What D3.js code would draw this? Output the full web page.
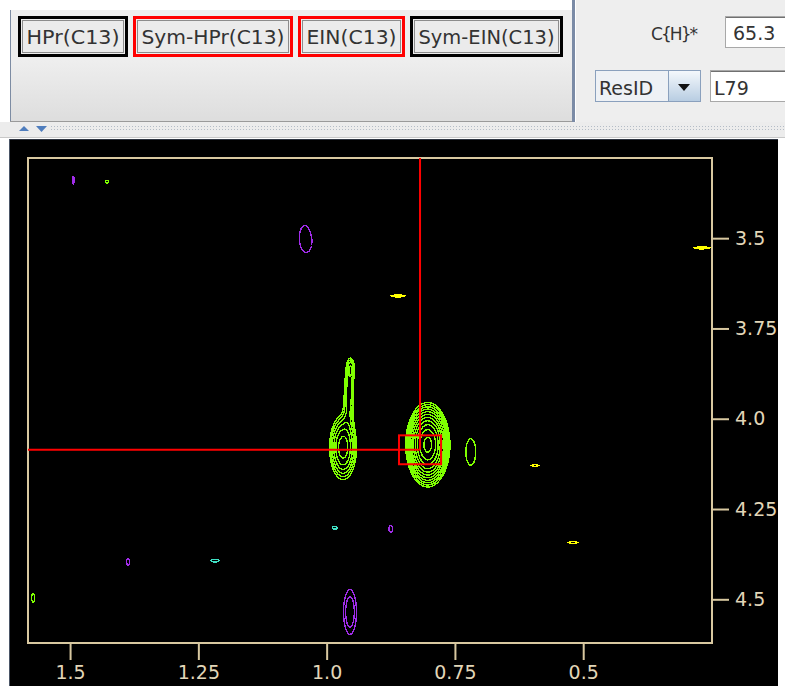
<!DOCTYPE html>
<html>
<head>
<meta charset="utf-8">
<script src="https://cdn.jsdelivr.net/npm/d3@7"></script>
<style>
  body { margin: 0; background: #fff; overflow: hidden; }
  svg { display: block; font-family: "DejaVu Sans", sans-serif; }
</style>
</head>
<body>
<svg id="view" width="785" height="686"></svg>
<script>
// spectrum window (ppm), x axis runs high -> low
const xDomain = [1.582, 0.249];
const yDomain = [3.278, 4.621];
const xTicks = [1.5, 1.25, 1.0, 0.75, 0.5];
const xTickLabels = ["1.5", "1.25", "1.0", "0.75", "0.5"];
const yTicks = [3.5, 3.75, 4.0, 4.25, 4.5];
const yTickLabels = ["3.5", "3.75", "4.0", "4.25", "4.5"];

// peaks: [x ppm, y ppm, height, x linewidth, y linewidth]
const greenPeaks = [
  [0.803, 4.072, 10.0, 0.0200, 0.0545],
  [0.968, 4.080, 3.5, 0.0166, 0.0560],
  [0.9565, 3.926, 1.8, 0.0078, 0.0554],
  [0.9526, 3.859, 1.3, 0.0058, 0.0220],
  [0.719, 4.092, 1.2, 0.0156, 0.0610],
  [1.428, 3.344, 1.1, 0.0067, 0.0095],
  [1.572, 4.496, 1.1, 0.0067, 0.0300]
];
const purplePeaks = [
  [1.040, 3.512, 1.1, 0.0245, 0.0630],
  [1.044, 3.477, 0.2, 0.0080, 0.0220],
  [1.494, 3.339, 1.1, 0.0045, 0.0250],
  [0.9545, 4.535, 1.5, 0.0140, 0.0690],
  [0.875, 4.305, 1.1, 0.0090, 0.0220],
  [1.387, 4.396, 1.1, 0.0067, 0.0220]
];
const cyanPeaks = [
  [0.984, 4.302, 1.1, 0.0110, 0.0095],
  [1.2175, 4.393, 1.1, 0.0175, 0.0095]
];
const yellowPeaks = [
  [0.861, 3.660, 1.1, 0.0350, 0.0064],
  [0.269, 3.527, 1.1, 0.0390, 0.0064],
  [0.594, 4.130, 1.1, 0.0156, 0.0064],
  [0.520, 4.343, 1.1, 0.0210, 0.0064]
];
const contourBase = 1.0, contourFactor = 1.25, contourCount = 12;

const cursorPos = [0.818, 4.086];
const cursorHalf = [0.041, 0.040];

const buttonLabels = ["HPr(C13)", "Sym-HPr(C13)", "EIN(C13)", "Sym-EIN(C13)"];
const buttonActive = [false, true, true, false];
const shiftLabel = "C{H}*";
const shiftValue = "65.3";
const comboLabel = "ResID";
const residueValue = "L79";

const svg = d3.select("#view");
const defs = svg.append("defs");

// ---------- top control panel ----------
const grad = defs.append("linearGradient").attr("id", "panelGrad").attr("x1", 0).attr("y1", 0).attr("x2", 0).attr("y2", 1);
grad.append("stop").attr("offset", "0%").attr("stop-color", "#eeeeee");
grad.append("stop").attr("offset", "45%").attr("stop-color", "#eeeeee");
grad.append("stop").attr("offset", "100%").attr("stop-color", "#dddddd");

const arrowGrad = defs.append("linearGradient").attr("id", "arrowGrad").attr("x1", 0).attr("y1", 0).attr("x2", 0).attr("y2", 1);
arrowGrad.append("stop").attr("offset", "0%").attr("stop-color", "#f4f8fc");
arrowGrad.append("stop").attr("offset", "100%").attr("stop-color", "#b8cde2");

svg.append("rect").attr("x", 10).attr("y", 10).attr("width", 562).attr("height", 112).attr("fill", "url(#panelGrad)");
svg.append("line").attr("x1", 10.5).attr("x2", 10.5).attr("y1", 10).attr("y2", 122).attr("stroke", "#7d8ca3");
svg.append("line").attr("x1", 10).attr("x2", 572).attr("y1", 121.5).attr("y2", 121.5).attr("stroke", "#9a9a9a");
svg.append("rect").attr("x", 576).attr("y", 0).attr("width", 209).attr("height", 122).attr("fill", "#eeeeee");
svg.append("rect").attr("x", 572).attr("y", 0).attr("width", 3).attr("height", 122).attr("fill", "#7b8ba6");

const btnX = [18, 133, 298, 410], btnW = [110, 160, 107, 153];
const buttons = svg.append("g").selectAll("g").data(buttonLabels).join("g");
buttons.append("rect")
  .attr("x", (d, i) => btnX[i] + 1.5).attr("y", 17.5)
  .attr("width", (d, i) => btnW[i] - 3).attr("height", 38)
  .attr("fill", "none").attr("stroke", (d, i) => buttonActive[i] ? "#ff0000" : "#000000").attr("stroke-width", 3);
buttons.append("rect")
  .attr("x", (d, i) => btnX[i] + 4.5).attr("y", 20.5)
  .attr("width", (d, i) => btnW[i] - 9).attr("height", 32)
  .attr("fill", "#ebebeb").attr("stroke", "#8c8c8c");
buttons.append("text")
  .attr("x", (d, i) => btnX[i] + btnW[i] / 2).attr("y", 44)
  .attr("text-anchor", "middle").attr("font-size", 19).attr("fill", "#333")
  .attr("textLength", (d, i) => btnW[i] - 17).attr("lengthAdjust", "spacingAndGlyphs")
  .text(d => d);

svg.append("text").attr("x", 651).attr("y", 40).attr("font-size", 17).attr("fill", "#333")
  .attr("textLength", 47).text(shiftLabel);
svg.append("rect").attr("x", 725.5).attr("y", 16.5).attr("width", 70).attr("height", 31).attr("fill", "#fff").attr("stroke", "#a8a8a8");
svg.append("line").attr("x1", 726).attr("x2", 790).attr("y1", 17.5).attr("y2", 17.5).attr("stroke", "#707070");
svg.append("text").attr("x", 733).attr("y", 40).attr("font-size", 19).attr("fill", "#333").text(shiftValue);

svg.append("rect").attr("x", 595.5).attr("y", 70.5).attr("width", 105).attr("height", 31).attr("fill", "#eef1f5").attr("stroke", "#8aa0bd");
svg.append("rect").attr("x", 668.5).attr("y", 71).attr("width", 31.5).attr("height", 30).attr("fill", "url(#arrowGrad)");
svg.append("line").attr("x1", 668.5).attr("x2", 668.5).attr("y1", 71).attr("y2", 101).attr("stroke", "#8aa0bd");
svg.append("path").attr("d", "M678,84L690,84L684,91Z").attr("fill", "#111");
svg.append("text").attr("x", 599).attr("y", 95).attr("font-size", 19).attr("fill", "#333").text(comboLabel);
svg.append("rect").attr("x", 710.5).attr("y", 70.5).attr("width", 80).attr("height", 31).attr("fill", "#fff").attr("stroke", "#a8a8a8");
svg.append("line").attr("x1", 711).attr("x2", 790).attr("y1", 71.5).attr("y2", 71.5).attr("stroke", "#707070");
svg.append("text").attr("x", 714).attr("y", 95).attr("font-size", 19).attr("fill", "#333").text(residueValue);

// splitter strip
const dots = defs.append("pattern").attr("id", "dots").attr("width", 3).attr("height", 3).attr("patternUnits", "userSpaceOnUse");
dots.append("rect").attr("width", 1).attr("height", 1).attr("fill", "#b4bcc6");
svg.append("rect").attr("x", 0).attr("y", 122).attr("width", 785).attr("height", 15).attr("fill", "#ececec");
svg.append("rect").attr("x", 50).attr("y", 126).attr("width", 735).attr("height", 6).attr("fill", "url(#dots)");
svg.append("path").attr("d", "M19,131L24,126L29,131Z").attr("fill", "#4f7dbd");
svg.append("path").attr("d", "M36,126L47,126L41.5,132Z").attr("fill", "#4f7dbd");
svg.append("line").attr("x1", 0).attr("x2", 785).attr("y1", 137.5).attr("y2", 137.5).attr("stroke", "#c8c8c8");

// ---------- spectrum panel ----------
defs.append("clipPath").attr("id", "panelClip").append("rect").attr("x", 9).attr("y", 139).attr("width", 769).attr("height", 547);
const panel = svg.append("g").attr("clip-path", "url(#panelClip)");
panel.append("rect").attr("x", 9).attr("y", 139).attr("width", 769).attr("height", 547).attr("fill", "#000");
panel.append("line").attr("x1", 9).attr("x2", 778).attr("y1", 139.5).attr("y2", 139.5).attr("stroke", "#2e3440");
panel.append("line").attr("x1", 9.5).attr("x2", 9.5).attr("y1", 139).attr("y2", 686).attr("stroke", "#4a5566");

const plotL = 28, plotT = 158, plotR = 712, plotB = 643;
const x = d3.scaleLinear().domain(xDomain).range([plotL, plotR]);
const y = d3.scaleLinear().domain(yDomain).range([plotT, plotB]);

defs.append("clipPath").attr("id", "plotClip").append("rect")
  .attr("x", plotL).attr("y", plotT).attr("width", plotR - plotL).attr("height", plotB - plotT);

const nx = plotR - plotL, ny = plotB - plotT;
function peakGrid(peaks) {
  const values = new Float64Array(nx * ny);
  peaks.forEach(p => {
    const cx = x(p[0]) - plotL, cy = y(p[1]) - plotT;
    const sx = Math.abs(x(p[0] + p[3]) - x(p[0])), sy = Math.abs(y(p[1] + p[4]) - y(p[1]));
    const i0 = Math.max(0, Math.floor(cx - 5 * sx)), i1 = Math.min(nx - 1, Math.ceil(cx + 5 * sx));
    const j0 = Math.max(0, Math.floor(cy - 5 * sy)), j1 = Math.min(ny - 1, Math.ceil(cy + 5 * sy));
    for (let j = j0; j <= j1; j++) {
      const dy = (j + 0.5 - cy) / sy;
      for (let i = i0; i <= i1; i++) {
        const dx = (i + 0.5 - cx) / sx;
        values[i + j * nx] += p[2] * Math.exp(-0.5 * (dx * dx + dy * dy));
      }
    }
  });
  return values;
}

const levels = d3.range(contourCount).map(k => contourBase * Math.pow(contourFactor, k));
const spectra = [
  { peaks: greenPeaks, color: "#7fff00" },
  { peaks: purplePeaks, color: "#a02ce8" },
  { peaks: cyanPeaks, color: "#40e0c4" },
  { peaks: yellowPeaks, color: "#ffff00" }
];
const contourGroup = panel.append("g").attr("clip-path", "url(#plotClip)")
  .append("g").attr("transform", `translate(${plotL},${plotT})`);
const geo = d3.geoPath();
spectra.forEach(s => {
  const contours = d3.contours().size([nx, ny]).thresholds(levels)(peakGrid(s.peaks));
  contourGroup.append("g").selectAll("path")
    .data(contours.filter(c => c.coordinates.length))
    .join("path")
    .attr("d", geo)
    .attr("fill", "none")
    .attr("stroke", s.color)
    .attr("stroke-width", 1.4)
    .attr("shape-rendering", "crispEdges");
});

const frameColor = "#d8c8a0";
panel.append("rect").attr("x", plotL).attr("y", plotT).attr("width", plotR - plotL).attr("height", plotB - plotT)
  .attr("fill", "none").attr("stroke", frameColor).attr("stroke-width", 2);

const xAxis = d3.axisBottom(x).tickValues(xTicks).tickSize(17).tickPadding(6)
  .tickFormat((d, i) => xTickLabels[i]);
const yAxis = d3.axisRight(y).tickValues(yTicks).tickSize(17).tickPadding(6)
  .tickFormat((d, i) => yTickLabels[i]);

const gx = panel.append("g").attr("transform", `translate(0,${plotB})`).call(xAxis);
const gy = panel.append("g").attr("transform", `translate(${plotR},0)`).call(yAxis);
[gx, gy].forEach(g => {
  g.select(".domain").remove();
  g.selectAll(".tick line").attr("stroke", frameColor).attr("stroke-width", 2);
  g.selectAll(".tick text").attr("fill", "#e2d6b8").attr("font-size", 19)
    .attr("font-family", "DejaVu Sans, sans-serif");
});

// cursor crosshair and box
const curX = x(cursorPos[0]), curY = y(cursorPos[1]);
panel.append("line").attr("x1", curX).attr("x2", curX).attr("y1", plotT).attr("y2", curY)
  .attr("stroke", "#ff0000").attr("stroke-width", 2);
panel.append("line").attr("x1", plotL).attr("x2", curX).attr("y1", curY).attr("y2", curY)
  .attr("stroke", "#ff0000").attr("stroke-width", 2);
panel.append("rect")
  .attr("x", x(cursorPos[0] + cursorHalf[0])).attr("y", y(cursorPos[1] - cursorHalf[1]))
  .attr("width", x(cursorPos[0] - cursorHalf[0]) - x(cursorPos[0] + cursorHalf[0]))
  .attr("height", y(cursorPos[1] + cursorHalf[1]) - y(cursorPos[1] - cursorHalf[1]))
  .attr("fill", "none").attr("stroke", "#ff0000").attr("stroke-width", 2);

svg.append("rect").attr("x", 778).attr("y", 139).attr("width", 7).attr("height", 547).attr("fill", "#fff");
</script>
</body>
</html>
